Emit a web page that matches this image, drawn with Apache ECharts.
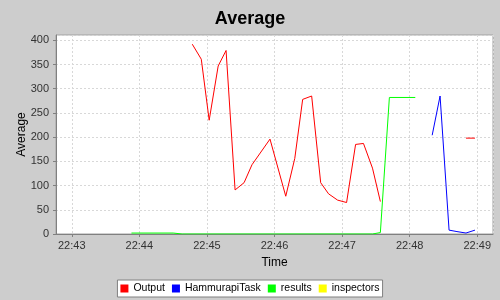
<!DOCTYPE html>
<html><head><meta charset="utf-8">
<script src="https://cdn.jsdelivr.net/npm/echarts@6/dist/echarts.min.js"></script>
<style>html,body{margin:0;padding:0;background:#cdcdcd}#c{width:500px;height:300px}</style>
</head><body><div id="c"></div>
<script>
const outputTimes = ['22:44:47','22:44:55','22:45:02','22:45:10','22:45:17','22:45:25','22:45:33','22:45:40','22:45:56','22:46:10','22:46:18','22:46:25','22:46:33','22:46:41','22:46:48','22:46:56','22:47:04','22:47:12','22:47:19','22:47:27','22:47:34','22:48:10','22:48:50','22:48:58'];
const outputValues = [392,361,235,347,379,91,106,143,196,78,156,278,285,106,83,70,65,185,187,136,67,null,198,198];
const taskTimes = ['22:48:20','22:48:27','22:48:35','22:48:42','22:48:50','22:48:58'];
const taskValues = [204,285,8,5,2,8];
const resultsTimes = ['22:43:53','22:44:30','22:44:38','22:47:27','22:47:34','22:47:42','22:48:05'];
const resultsValues = [2,2,0,0,3,282,282];
const inspectorsTimes = [];
const inspectorsValues = [];
const seriesNames = ['Output','HammurapiTask','results','inspectors'];
const seriesColors = ['#ff0000','#0000ff','#00ff00','#ffff00'];
const xMin = '22:42:46', xMax = '22:49:14';
const yMax = 411;

function ts(s){const p=s.split(':').map(Number);return Date.UTC(2024,0,1,p[0],p[1],p[2]);}
function pairs(t,v){return t.map((x,i)=>[ts(x),v[i]]);}
const allData=[pairs(outputTimes,outputValues),pairs(taskTimes,taskValues),pairs(resultsTimes,resultsValues),pairs(inspectorsTimes,inspectorsValues)];
const font='"Liberation Sans", Arial, sans-serif';
const chart=echarts.init(document.getElementById('c'),null,{renderer:'canvas'});
chart.setOption({
  useUTC:true,
  animation:false,
  backgroundColor:'#cdcdcd',
  title:{text:'Average',left:'center',top:5,textStyle:{fontFamily:font,fontSize:18,fontWeight:'bold',color:'#000'}},
  grid:{left:56,right:7,top:35,bottom:66,show:true,backgroundColor:'#fff',borderColor:'#a0a0a0',borderWidth:1},
  legend:{bottom:3,left:'center',icon:'rect',itemWidth:8,itemHeight:8,itemGap:7,
    backgroundColor:'#fff',borderColor:'#808080',borderWidth:1,padding:[3,3,3,3],
    textStyle:{fontFamily:font,fontSize:10.5,color:'#000'},data:seriesNames},
  xAxis:{type:'time',min:ts(xMin),max:ts(xMax),minInterval:60000,maxInterval:60000,
    name:'Time',nameLocation:'middle',nameGap:23,nameMoveOverlap:false,nameTextStyle:{fontFamily:font,fontSize:12,color:'#000'},
    axisLine:{lineStyle:{color:'#808080'}},
    axisTick:{show:true,length:3,lineStyle:{color:'#808080'}},
    axisLabel:{formatter:'{HH}:{mm}',fontFamily:font,fontSize:11,color:'#333',margin:6,showMinLabel:false,showMaxLabel:false},
    splitLine:{show:true,lineStyle:{color:'#d8d8d8',type:[2,2]}}},
  yAxis:{type:'value',min:0,max:yMax,interval:50,
    name:'Average',nameLocation:'middle',nameGap:28,nameMoveOverlap:false,nameRotate:90,nameTextStyle:{fontFamily:font,fontSize:12,color:'#000'},
    axisLine:{show:true,lineStyle:{color:'#808080'}},
    axisTick:{show:true,length:3,lineStyle:{color:'#808080'}},
    axisLabel:{fontFamily:font,fontSize:11,color:'#333',margin:7,showMaxLabel:false},
    splitLine:{show:true,lineStyle:{color:'#d8d8d8',type:[2,2]}}},
  series:seriesNames.map((n,i)=>({name:n,type:'line',data:allData[i],showSymbol:false,symbol:'none',
    connectNulls:false,color:seriesColors[i],lineStyle:{width:1,color:seriesColors[i]}}))
});
</script></body></html>
